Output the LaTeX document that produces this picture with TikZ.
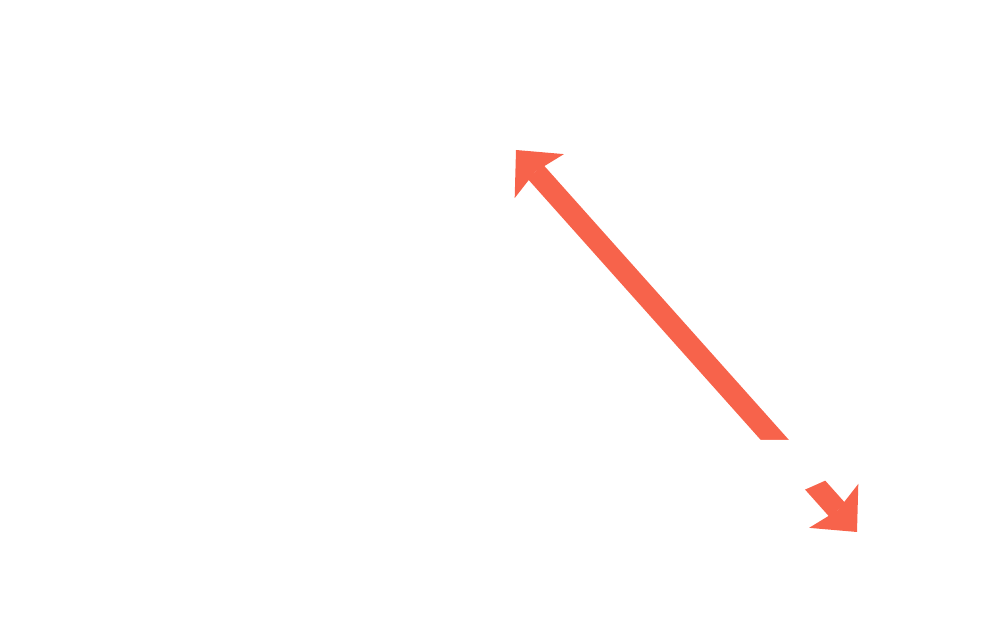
\documentclass[tikz,border=0pt]{standalone}
\usetikzlibrary{arrows.meta}
\definecolor{arrowred}{RGB}{247,99,75}
\tikzset{
  bigarrow/.style={draw=arrowred, line width=0.42cm,
    {Stealth[length=0.70cm, width=1.32cm, inset=0.12cm, line width=0pt]}-{Stealth[length=0.70cm, width=1.32cm, inset=0.12cm, line width=0pt]}},
  cover/.style={fill=white, draw=none}
}
\begin{document}
\begin{tikzpicture}
\useasboundingbox (0,0) rectangle (20,12.8);
\coordinate (a) at (10.32,9.80);
\coordinate (b) at (17.14,2.16);
\draw[bigarrow] (a) -- (b);
\fill[cover] (15.2,4.0) -- (16.8,4.0) -- (16.8,3.32) -- (15.4,2.70) -- (15.2,2.70) -- cycle;
\end{tikzpicture}
\end{document}
